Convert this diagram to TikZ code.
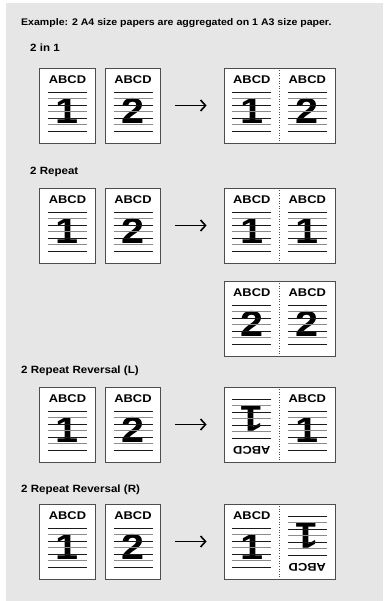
\documentclass[tikz,border=0pt]{standalone}
\usepackage{fontspec}
\setmainfont[FakeStretch=1.1]{Liberation Sans}
\newfontfamily\widefont[FakeStretch=1.15]{Liberation Sans}
\usepackage{tikz}
\usetikzlibrary{arrows.meta}
\definecolor{panelgray}{HTML}{E6E6E6}
\definecolor{sheetedge}{HTML}{4D4D4D}
\definecolor{ruleblack}{HTML}{1A1A1A}
\definecolor{rulegray}{HTML}{8C8C8C}
\tikzset{
  sheet/.style={rectangle,draw=sheetedge,fill=white,line width=0.8pt,
    minimum width=55.5pt,minimum height=75pt,inner sep=0pt},
  wide sheet/.style={sheet,minimum width=111pt},
  fold/.style={draw=sheetedge,dotted,line width=0.6pt},
  rule/.style={draw=ruleblack,line width=0.9pt},
  gray rule/.style={draw=rulegray,line width=1.4pt},
  heading/.style={font=\widefont\fontsize{11.2}{11.2}\selectfont\bfseries,inner sep=0pt},
  numeral/.style={font=\widefont\fontsize{36}{36}\selectfont\bfseries,inner sep=0pt},
  caption/.style={font=\fontsize{10.5}{10.5}\selectfont\bfseries,
    anchor=base west,inner sep=0pt},
  convert/.style={draw=black,line width=1.6pt,
    -{Straight Barb[length=5pt,width=11pt]}}
}
% contents of one A4 page, centred at #1, turned by #3
\newcommand{\pagetext}[4]{%
  \begin{scope}[shift={(#1)},rotate=#3]
    \node[numeral,rotate=#3] (#4-num) at (0,5.5) {#2};
    \foreach \y in {-13.5,-0.5,12.5,25.5} \draw[rule] (-19.5,\y) -- (19.5,\y);
    \foreach \y in {-7,6,19} \draw[gray rule] (-19.5,\y) -- (19.5,\y);
    \node[heading,rotate=#3] (#4-head) at (0,-25.5) {ABCD};
  \end{scope}}
\begin{document}
\begin{tikzpicture}[x=1pt,y=-1pt]
  \useasboundingbox (0,0) rectangle (386,601);
  \fill[panelgray] (6,3) rectangle (383,601);
  \node[caption,font=\fontsize{9.6}{9.6}\selectfont\bfseries] (title) at (21,25.5)
    {Example: 2 A4 size papers are aggregated on 1 A3 size paper.};

  % 2 in 1
  \node[caption] (cap1) at (30,52) {2 in 1};
  \node[sheet] (s1a) at (67.5,105.5) {};
  \node[sheet] (s1b) at (133,105.5) {};
  \node[wide sheet] (s1c) at (279.5,105.5) {};
  \draw[fold] (s1c.north) -- (s1c.south);
  \pagetext{s1a}{1}{0}{p1a}
  \pagetext{s1b}{2}{0}{p1b}
  \pagetext{251.75,105.5}{1}{0}{p1c}
  \pagetext{307.25,105.5}{2}{0}{p1d}
  \draw[convert,shorten <=14pt,shorten >=17pt] (s1b.east) -- (s1c.west);

  % 2 Repeat
  \node[caption] (cap2) at (30,175) {2 Repeat};
  \node[sheet] (s2a) at (67.5,225.5) {};
  \node[sheet] (s2b) at (133,225.5) {};
  \node[wide sheet] (s2c) at (279.5,225.5) {};
  \node[wide sheet] (s2d) at (279.5,318.5) {};
  \draw[fold] (s2c.north) -- (s2c.south);
  \draw[fold] (s2d.north) -- (s2d.south);
  \pagetext{s2a}{1}{0}{p2a}
  \pagetext{s2b}{2}{0}{p2b}
  \pagetext{251.75,225.5}{1}{0}{p2c}
  \pagetext{307.25,225.5}{1}{0}{p2d}
  \pagetext{251.75,318.5}{2}{0}{p2e}
  \pagetext{307.25,318.5}{2}{0}{p2f}
  \draw[convert,shorten <=14pt,shorten >=17pt] (s2b.east) -- (s2c.west);

  % 2 Repeat Reversal (L)
  \node[caption] (cap3) at (21,373) {2 Repeat Reversal (L)};
  \node[sheet] (s3a) at (67.5,424.5) {};
  \node[sheet] (s3b) at (133,424.5) {};
  \node[wide sheet] (s3c) at (279.5,424.5) {};
  \draw[fold] (s3c.north) -- (s3c.south);
  \pagetext{s3a}{1}{0}{p3a}
  \pagetext{s3b}{2}{0}{p3b}
  \pagetext{251.75,424.5}{1}{180}{p3c}
  \pagetext{307.25,424.5}{1}{0}{p3d}
  \draw[convert,shorten <=14pt,shorten >=17pt] (s3b.east) -- (s3c.west);

  % 2 Repeat Reversal (R)
  \node[caption] (cap4) at (21,492) {2 Repeat Reversal (R)};
  \node[sheet] (s4a) at (67.5,541.5) {};
  \node[sheet] (s4b) at (133,541.5) {};
  \node[wide sheet] (s4c) at (279.5,541.5) {};
  \draw[fold] (s4c.north) -- (s4c.south);
  \pagetext{s4a}{1}{0}{p4a}
  \pagetext{s4b}{2}{0}{p4b}
  \pagetext{251.75,541.5}{1}{0}{p4c}
  \pagetext{307.25,541.5}{1}{180}{p4d}
  \draw[convert,shorten <=14pt,shorten >=17pt] (s4b.east) -- (s4c.west);
\end{tikzpicture}
\end{document}
